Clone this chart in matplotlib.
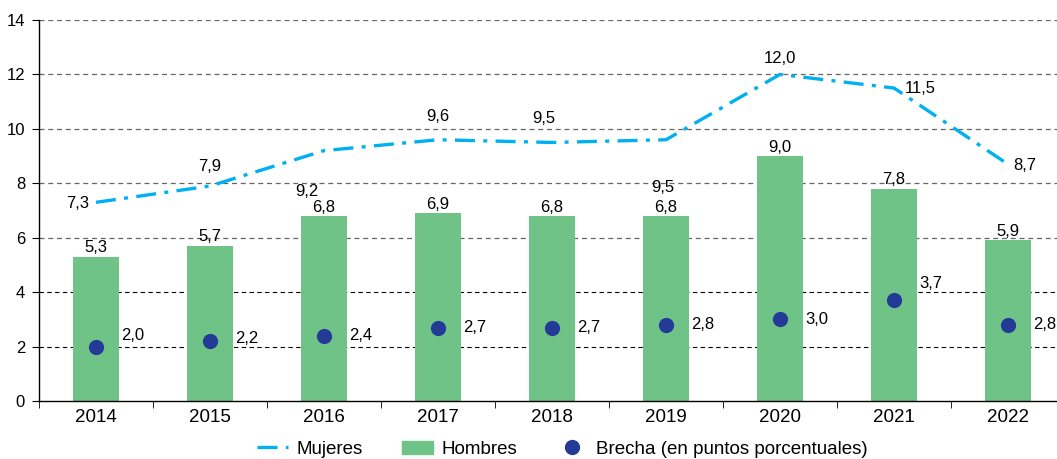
import matplotlib.pyplot as plt
import numpy as np
from matplotlib.lines import Line2D
from matplotlib.patches import Patch

plt.rcParams['font.family'] = ['Liberation Sans', 'DejaVu Sans']

years = ['2014', '2015', '2016', '2017', '2018', '2019', '2020', '2021', '2022']
mujeres = [7.3, 7.9, 9.2, 9.6, 9.5, 9.6, 12.0, 11.5, 8.7]
mujeres_lbl = ['7,3', '7,9', '9,2', '9,6', '9,5', '9,5', '12,0', '11,5', '8,7']
hombres = [5.3, 5.7, 6.8, 6.9, 6.8, 6.8, 9.0, 7.8, 5.9]
brecha = [2.0, 2.2, 2.4, 2.7, 2.7, 2.8, 3.0, 3.7, 2.8]

green = '#70C386'
blue = '#00B0F0'
navy = '#233A97'
dashdot = (0, (6, 2.5, 1.2, 2.5))

fig = plt.figure(figsize=(10.57, 4.59), dpi=100)
ax = fig.add_axes([39 / 1057, 58 / 459, 1026 / 1057, 381 / 459])

x = np.arange(len(years))

# grid
for yv in [2, 4]:
    ax.axhline(yv, color='black', lw=0.8, ls=(0, (4, 3)), zorder=0)
for yv in [6, 8, 10, 12, 14]:
    ax.axhline(yv, color='#666666', lw=0.9, ls=(0, (4, 3)), zorder=0)

ax.bar(x, hombres, width=0.4, color=green, zorder=2)
ax.plot(x, mujeres, color=blue, lw=2.4, ls=dashdot, zorder=3)
ax.scatter(x, brecha, s=120, color=navy, zorder=4, linewidths=0)

fs = 12
for i, v in enumerate(hombres):
    ax.annotate(f'{v:.1f}'.replace('.', ','), (x[i], v), xytext=(0, 1),
                textcoords='offset points', ha='center', va='bottom', fontsize=fs)

b_dy = [8, 2, 0, 0, 0, 0, 0, 12, 0]
for i, v in enumerate(brecha):
    ax.annotate(f'{v:.1f}'.replace('.', ','), (x[i], v), xytext=(18, b_dy[i]),
                textcoords='offset points', ha='left', va='center', fontsize=fs)

# label offsets for Mujeres (points)
offs = [(-5, -1, 'right', 'center'), (0, 9, 'center', 'bottom'), (-12, -24, 'center', 'top'),
        (0, 11, 'center', 'bottom'), (-6, 12, 'center', 'bottom'), (-2, -29, 'center', 'top'),
        (0, 6, 'center', 'bottom'), (8, 0, 'left', 'center'), (4, -1, 'left', 'center')]
for i, lbl in enumerate(mujeres_lbl):
    dx, dy, ha, va = offs[i]
    ax.annotate(lbl, (x[i], mujeres[i]), xytext=(dx, dy), textcoords='offset points',
                ha=ha, va=va, fontsize=fs)

ax.set_xlim(-0.5, len(years) - 0.5)
ax.set_ylim(0, 14)
ax.set_yticks(range(0, 15, 2))
ax.set_xticks(x)
ax.set_xticklabels(years)
ax.set_xticks(np.arange(-0.5, len(years), 1), minor=True)
ax.tick_params(axis='x', which='major', length=0, pad=6, labelsize=13.5)
ax.tick_params(axis='x', which='minor', length=5, direction='out')
ax.tick_params(axis='y', length=5, labelsize=12, pad=5)
for s in ['top', 'right']:
    ax.spines[s].set_visible(False)
ax.spines['left'].set_linewidth(1)
ax.spines['bottom'].set_linewidth(1)

handles = [
    Line2D([0], [0], color=blue, lw=2.4, ls=dashdot),
    Patch(color=green),
    Line2D([0], [0], marker='o', color=navy, ls='none', markersize=11, markeredgewidth=0),
]
fig.legend(handles, ['Mujeres', 'Hombres', 'Brecha (en puntos porcentuales)'],
           loc='lower center', bbox_to_anchor=(0.532, -0.034), ncol=3, frameon=False,
           fontsize=13.5, handlelength=1.65, handletextpad=0.45, columnspacing=2.1)

fig.savefig('out.png', dpi=100)
